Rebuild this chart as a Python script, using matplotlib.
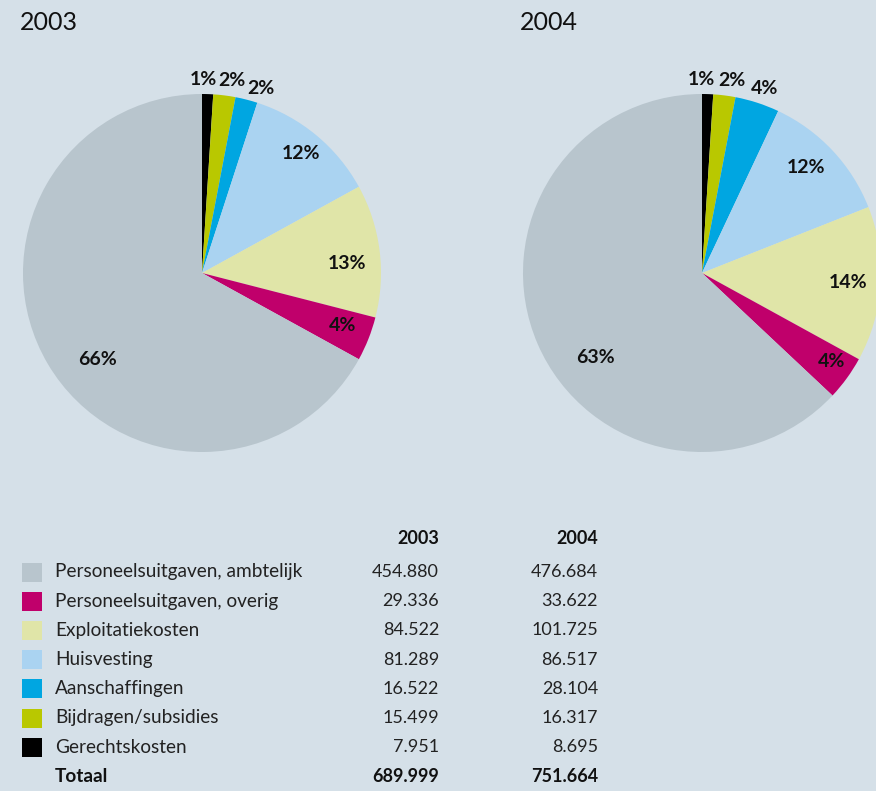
import matplotlib.pyplot as plt
from matplotlib.patches import Rectangle
import numpy as np

plt.rcParams['font.family'] = ['Lato', 'DejaVu Sans']

# Table data (x 1.000 euro)
categories = [
    "Personeelsuitgaven, ambtelijk",
    "Personeelsuitgaven, overig",
    "Exploitatiekosten",
    "Huisvesting",
    "Aanschaffingen",
    "Bijdragen/subsidies",
    "Gerechtskosten",
]
values_2003 = [454880, 29336, 84522, 81289, 16522, 15499, 7951]
values_2004 = [476684, 33622, 101725, 86517, 28104, 16317, 8695]
total_2003 = 689999
total_2004 = 751664
# pie shares as drawn (%)
share_2003 = [67, 4, 12, 12, 2, 2, 1]
share_2004 = [63, 4, 14, 12, 4, 2, 1]
# percentages as printed in the pies
pct_2003 = [66, 4, 13, 12, 2, 2, 1]
pct_2004 = [63, 4, 14, 12, 4, 2, 1]
colors = ["#b8c5cd", "#c0006b", "#e0e5a8", "#aad3f1", "#00a6e1", "#b9c800", "#000000"]

bg = "#d5e0e8"
W, H = 876, 791


def fmt(v):
    return f"{v:,}".replace(",", ".")


fig = plt.figure(figsize=(W / 100, H / 100), dpi=100, facecolor=bg)
ax = fig.add_axes([0, 0, 1, 1])
ax.set_facecolor(bg)

radius = 179

# label placement per slice: distance (x radius) and angle tweak (deg, clockwise)
pies = [
    (202, "2003", share_2003, pct_2003,
     [0.76, 0.84, 0.81, 0.87, 1.08, 1.09, 1.08], [-9, -1, 3.5, 0, 3.4, 1.6, -1.5]),
    (702, "2004", share_2004, pct_2004,
     [0.76, 0.88, 0.82, 0.83, 1.09, 1.09, 1.08], [-15, -1.6, 0, -2.3, 0.8, 1.6, -2]),
]

for cx, year, shares, pcts, dists, shifts in pies:
    cy = H - 273
    # pie drawn clockwise from the top, smallest categories first
    wedges, _ = ax.pie(shares[::-1], colors=colors[::-1], startangle=90,
                       counterclock=False, radius=radius, center=(cx, cy),
                       wedgeprops=dict(linewidth=0))
    for w, p, d, s in zip(wedges, pcts[::-1], dists[::-1], shifts[::-1]):
        ang = np.deg2rad((w.theta1 + w.theta2) / 2 - s)
        ax.text(cx + d * radius * np.cos(ang), cy + d * radius * np.sin(ang),
                f"{p}%", ha="center", va="center", fontsize=14,
                fontweight="bold", color="#111111")
    ax.text(cx - 182, H - 22, year, ha="left", va="center", fontsize=18,
            color="#111111")

# table
col1, col2 = 439, 598
for col, year in [(col1, "2003"), (col2, "2004")]:
    ax.text(col, H - 538, year, ha="right", va="center", fontsize=13,
            fontweight="bold", color="#111111")

row0, step = 572, 29.2
for i, (cat, c, v3, v4) in enumerate(zip(categories, colors, values_2003, values_2004)):
    y = H - (row0 + i * step)
    ax.add_patch(Rectangle((22, y - 9.5), 20, 19, facecolor=c, edgecolor="none"))
    ax.text(55, y, cat, ha="left", va="center", fontsize=13.7, color="#222222")
    ax.text(col1, y, fmt(v3), ha="right", va="center", fontsize=13, color="#222222")
    ax.text(col2, y, fmt(v4), ha="right", va="center", fontsize=13, color="#222222")

y = H - (row0 + len(categories) * step)
ax.text(55, y, "Totaal", ha="left", va="center", fontsize=13.7,
        fontweight="bold", color="#111111")
ax.text(col1, y, fmt(total_2003), ha="right", va="center", fontsize=13,
        fontweight="bold", color="#111111")
ax.text(col2, y, fmt(total_2004), ha="right", va="center", fontsize=13,
        fontweight="bold", color="#111111")

ax.set_xlim(0, W)
ax.set_ylim(0, H)
ax.set_aspect("auto")
ax.axis("off")

fig.savefig("out.png", dpi=100, facecolor=bg)
